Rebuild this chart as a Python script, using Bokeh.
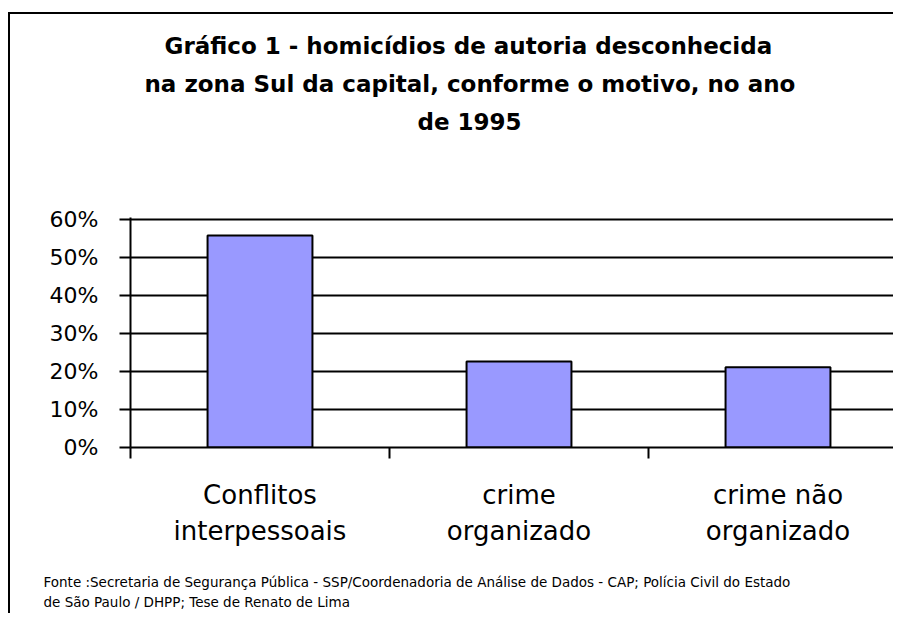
from bokeh.plotting import figure
from bokeh.models import (FixedTicker, NumeralTickFormatter, Title,
                          Range1d, ColumnDataSource)
from bokeh.embed import file_html
from bokeh.resources import INLINE

# ---- data ----
categories = ["Conflitos\ninterpessoais", "crime\norganizado", "crime não\norganizado"]
values = [0.558, 0.226, 0.211]
y_ticks = [0.0, 0.1, 0.2, 0.3, 0.4, 0.5, 0.6]
title_lines = ["Gráfico 1 - homicídios de autoria desconhecida",
               "na zona Sul da capital, conforme o motivo, no ano",
               "de 1995"]
footer_lines = ["Fonte :Secretaria de Segurança Pública - SSP/Coordenadoria de Análise de Dados - CAP; Polícia Civil do Estado",
                "de São Paulo / DHPP; Tese de Renato de Lima"]

FONT = "DejaVu Sans"
W, H = 893, 613
LEFT, TOP, BOTTOM = 130, 217, 166
CAT_W = 259.0
Y_END = 0.6 + 2 / 380.0

x_end = (W - LEFT) / CAT_W
centers = [i + 0.5 for i in range(len(categories))]
bounds = [float(i) for i in range(len(categories) + 1)]

src = ColumnDataSource(dict(x=centers, top=values))

p = figure(width=W, height=H, output_backend="svg", toolbar_location=None,
           x_range=Range1d(0, x_end), y_range=Range1d(0, Y_END),
           min_border_left=LEFT, min_border_right=0, min_border_top=TOP,
           min_border_bottom=BOTTOM, background_fill_color="white",
           border_fill_color=None)
p.outline_line_color = None
# chart border (left and top edges visible, the rest falls outside the window)
p.styles = {
    "background": ("linear-gradient(#000,#000) 8px 12px / 2px calc(100% - 12px) no-repeat, "
                   "linear-gradient(#000,#000) 8px 12px / calc(100% - 8px) 2px no-repeat, #fff")
}

p.vbar(x="x", top="top", bottom=0, width=0.405, source=src,
       fill_color="#9999FF", line_color="black", line_width=2)

# y axis
p.yaxis.ticker = FixedTicker(ticks=y_ticks)
p.yaxis.formatter = NumeralTickFormatter(format="0%")
p.yaxis.major_label_text_font = FONT
p.yaxis.major_label_text_font_size = "22px"
p.yaxis.major_label_text_color = "black"
p.yaxis.major_tick_out = 11
p.yaxis.major_tick_in = 0
p.yaxis.minor_tick_line_color = None
p.yaxis.major_tick_line_width = 2
p.yaxis.axis_line_width = 2
p.yaxis.major_label_standoff = 21

# x axis
p.xaxis.ticker = FixedTicker(ticks=centers, minor_ticks=bounds)
p.xaxis.major_label_overrides = {c: lab for c, lab in zip(centers, categories)}
p.xaxis.major_tick_line_color = None
p.xaxis.major_tick_out = 0
p.xaxis.major_tick_in = 0
p.xaxis.minor_tick_out = 11
p.xaxis.minor_tick_in = 0
p.xaxis.minor_tick_line_width = 2
p.xaxis.axis_line_width = 2
p.xaxis.major_label_text_font = FONT
p.xaxis.major_label_text_font_size = "26px"
p.xaxis.major_label_text_line_height = 1.22
p.xaxis.major_label_text_color = "black"
p.xaxis.major_label_standoff = 21

p.xgrid.grid_line_color = None
p.ygrid.ticker = FixedTicker(ticks=y_ticks)
p.ygrid.grid_line_color = "black"
p.ygrid.grid_line_width = 2

# ---- title: stacked above the frame (closest first) ----
p.title.text = ""
p.add_layout(Title(text=" ", text_font_size="10px", standoff=65), "above")  # gap
title_offsets = [34, 14, 287]
for t, off in reversed(list(zip(title_lines, title_offsets))):
    p.add_layout(Title(text=t, align="left", offset=off, text_font=FONT,
                       text_font_style="bold", text_font_size="23px",
                       text_color="black", standoff=10), "above")

# ---- footer: below the x axis ----
p.add_layout(Title(text=" ", text_font_size="10px", standoff=9), "below")  # gap
p.add_layout(Title(text="\n".join(footer_lines), align="left", offset=-87,
                   text_font=FONT, text_font_style="normal", text_font_size="13.5px",
                   text_line_height=1.3, text_color="black", standoff=0), "below")

open("out.html", "w").write(file_html(p, INLINE))
